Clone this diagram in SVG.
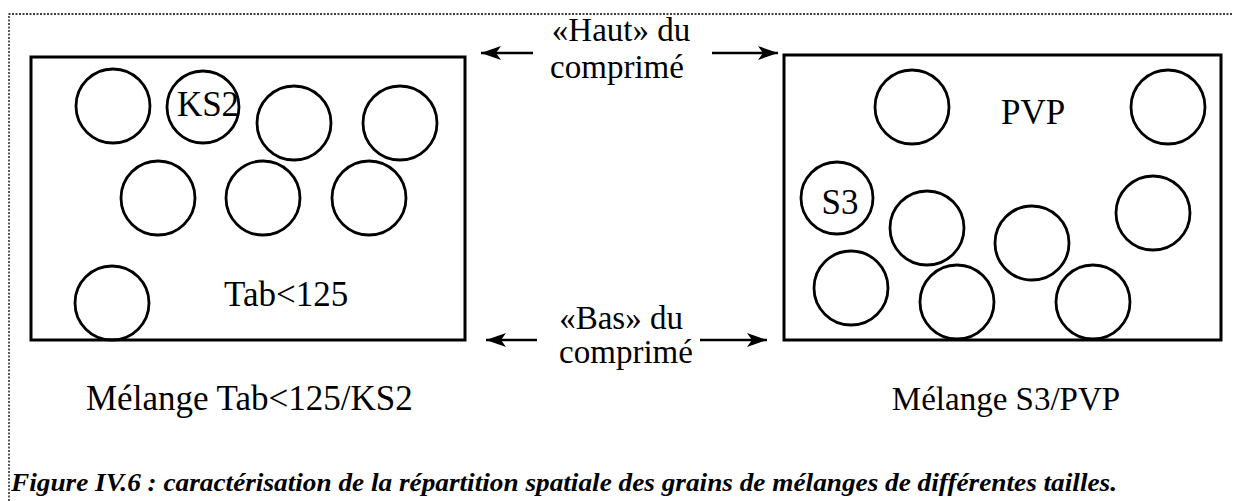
<svg xmlns="http://www.w3.org/2000/svg" width="1233" height="501" viewBox="0 0 1233 501">
  <style>
    .frame { fill: none; stroke: #000; stroke-width: 1.3; stroke-dasharray: 2 1.5; }
    .box { fill: none; stroke: #000; stroke-width: 3; }
    .grain { fill: none; stroke: #000; stroke-width: 2.8; }
    .arrow { stroke: #000; stroke-width: 2.5; fill: none; marker-end: url(#head); }
    .lbl { font-family: "Liberation Serif", "Times New Roman", serif; font-size: 33px; fill: #000; }
    .in { font-size: 35px; }
    .mid { text-anchor: middle; }
    .cap { font-family: "Liberation Serif", "Times New Roman", serif; font-size: 26px; font-weight: bold; font-style: italic; fill: #000; }
  </style>
  <defs>
    <marker id="head" markerWidth="22" markerHeight="14" refX="20" refY="7" orient="auto" markerUnits="userSpaceOnUse">
      <path d="M0,0 L20,7 L0,14 L5,7 Z" fill="#000"/>
    </marker>
  </defs>
  <rect width="1233" height="501" fill="#fff"/>

  <!-- dotted page frame -->
  <path class="frame" d="M9,501 L9,14 L1233,14"/>

  <!-- left mixture: Tab<125 / KS2 -->
  <g id="mix-tab-ks2">
    <rect class="box" x="31" y="57" width="434" height="283"/>
    <circle class="grain" cx="113" cy="106" r="37"/>
    <circle class="grain" cx="203" cy="107" r="36"/>
    <circle class="grain" cx="294" cy="123" r="37"/>
    <circle class="grain" cx="400" cy="123" r="37"/>
    <circle class="grain" cx="158" cy="198" r="37"/>
    <circle class="grain" cx="263" cy="198" r="37"/>
    <circle class="grain" cx="369" cy="198" r="37"/>
    <circle class="grain" cx="112" cy="303" r="37"/>
    <text class="lbl in mid" x="208" y="116">KS2</text>
    <text class="lbl in" x="224" y="306">Tab&lt;125</text>
    <text class="lbl in" x="86" y="410">Mélange Tab&lt;125/KS2</text>
  </g>

  <!-- right mixture: S3 / PVP -->
  <g id="mix-s3-pvp">
    <rect class="box" x="784" y="55" width="437" height="285"/>
    <circle class="grain" cx="912" cy="107" r="37"/>
    <circle class="grain" cx="1168" cy="107" r="37"/>
    <circle class="grain" cx="837" cy="198" r="36"/>
    <circle class="grain" cx="927" cy="228" r="37"/>
    <circle class="grain" cx="1032" cy="243" r="37"/>
    <circle class="grain" cx="1153" cy="213" r="37"/>
    <circle class="grain" cx="851" cy="288" r="37"/>
    <circle class="grain" cx="957" cy="302" r="37"/>
    <circle class="grain" cx="1093" cy="302" r="37"/>
    <text class="lbl in" x="1001" y="124">PVP</text>
    <text class="lbl in mid" x="840" y="214">S3</text>
    <text class="lbl mid" x="1006" y="410">Mélange S3/PVP</text>
  </g>

  <!-- top / bottom of the tablet -->
  <g id="label-haut">
    <text class="lbl mid" x="621" y="41">«Haut» du</text>
    <text class="lbl mid" x="617" y="78">comprimé</text>
  </g>
  <g id="label-bas">
    <text class="lbl mid" x="621" y="329">«Bas» du</text>
    <text class="lbl mid" x="626" y="363">comprimé</text>
  </g>

  <g id="connectors">
    <line class="arrow" x1="533" y1="53" x2="481" y2="53"/>
    <line class="arrow" x1="712" y1="53" x2="778" y2="53"/>
    <line class="arrow" x1="537" y1="340" x2="486" y2="340"/>
    <line class="arrow" x1="700" y1="340" x2="767" y2="340"/>
  </g>

  <text class="cap" x="11" y="491" textLength="1106" lengthAdjust="spacingAndGlyphs">Figure IV.6 : caractérisation de la répartition spatiale des grains de mélanges de différentes tailles.</text>
</svg>
